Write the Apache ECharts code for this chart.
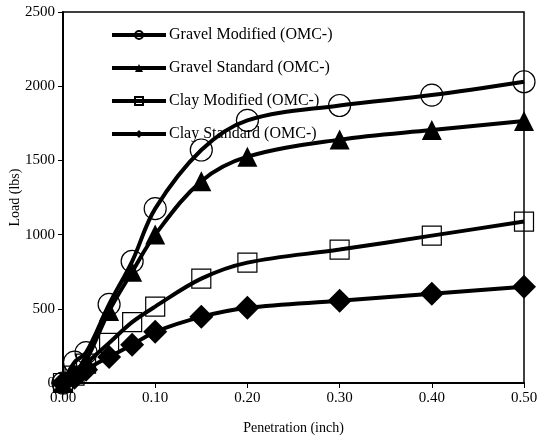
<!DOCTYPE html>
<html>
<head>
<meta charset="utf-8">
<script src="https://cdn.jsdelivr.net/npm/echarts@6/dist/echarts.min.js"></script>
<style>
  html, body { margin: 0; padding: 0; background: #fff; }
  #chart { width: 541px; height: 443px; }
</style>
</head>
<body>
<div id="chart"></div>
<script>
// penetration (inch)
const penetration = [0, 0.0125, 0.025, 0.05, 0.075, 0.1, 0.15, 0.2, 0.3, 0.4, 0.5]
// load (lbs)
const gravelModified = [0, 140, 205, 530, 820, 1175, 1570, 1770, 1870, 1940, 2030]
const gravelStandard = [0, 60, 150, 485, 750, 1000, 1360, 1525, 1640, 1705, 1765]
const clayModified = [0, 50, 130, 270, 410, 515, 703, 811, 899, 993, 1088]
const clayStandard = [0, 35, 90, 176, 257, 345, 446, 507, 554, 601, 649]

const seriesNames = ['Gravel Modified (OMC-)', 'Gravel Standard (OMC-)', 'Clay Modified (OMC-)', 'Clay Standard (OMC-)']

const pairs = (ys) => penetration.map((x, i) => [x, ys[i]])

const font = 'Liberation Serif, Times New Roman, serif'

const makeSeries = (name, ys, symbol, size, filled) => ({
  name,
  type: 'line',
  data: pairs(ys),
  smooth: 0.35,
  symbol,
  symbolSize: size,
  lineStyle: { color: '#000', width: 4 },
  itemStyle: filled
    ? { color: '#000', borderColor: '#000', borderWidth: 0 }
    : { color: 'rgba(255,255,255,0)', borderColor: '#000', borderWidth: 1.2 },
  emphasis: { disabled: true },
  animation: false
})

const chart = echarts.init(document.getElementById('chart'))
const option = {
  animation: false,
  textStyle: { fontFamily: font, color: '#000' },
  grid: {
    left: 63,
    right: 17,
    top: 12,
    bottom: 60,
    outerBoundsMode: 'none',
    containLabel: false,
    show: true,
    borderColor: '#000',
    borderWidth: 1.5
  },
  legend: {
    orient: 'vertical',
    left: 105,
    top: 22,
    itemWidth: 54,
    itemHeight: 10,
    itemGap: 17,
    data: seriesNames,
    lineStyle: { width: 4, color: '#000' },
    textStyle: { fontFamily: font, fontSize: 16, color: '#000', padding: [0, 0, 0, -2] }
  },
  xAxis: {
    type: 'value',
    min: 0,
    max: 0.5,
    interval: 0.1,
    name: 'Penetration (inch)',
    nameLocation: 'middle',
    nameGap: 38,
    nameMoveOverlap: false,
    nameTextStyle: { fontFamily: font, fontSize: 14, color: '#000' },
    axisLine: { show: true, lineStyle: { color: '#000', width: 2 } },
    axisTick: { show: true, inside: false, length: 5, lineStyle: { color: '#000', width: 1 } },
    axisLabel: { fontFamily: font, fontSize: 15, color: '#000', margin: 8, formatter: (v) => v.toFixed(2) },
    splitLine: { show: false }
  },
  yAxis: {
    type: 'value',
    min: 0,
    max: 2500,
    interval: 500,
    name: 'Load (lbs)',
    nameLocation: 'middle',
    nameGap: 41,
    nameMoveOverlap: false,
    nameTextStyle: { fontFamily: font, fontSize: 14, color: '#000' },
    axisLine: { show: true, lineStyle: { color: '#000', width: 2 } },
    axisTick: { show: true, inside: false, length: 5, lineStyle: { color: '#000', width: 1 } },
    axisLabel: { fontFamily: font, fontSize: 15, color: '#000', margin: 8, formatter: (v) => String(v) },
    splitLine: { show: false }
  },
  series: [
    makeSeries(seriesNames[0], gravelModified, 'circle', 22, false),
    makeSeries(seriesNames[1], gravelStandard, 'triangle', 20, true),
    makeSeries(seriesNames[2], clayModified, 'rect', 19, false),
    makeSeries(seriesNames[3], clayStandard, 'diamond', 24, true)
  ]
}
chart.setOption(option)
</script>
</body>
</html>
